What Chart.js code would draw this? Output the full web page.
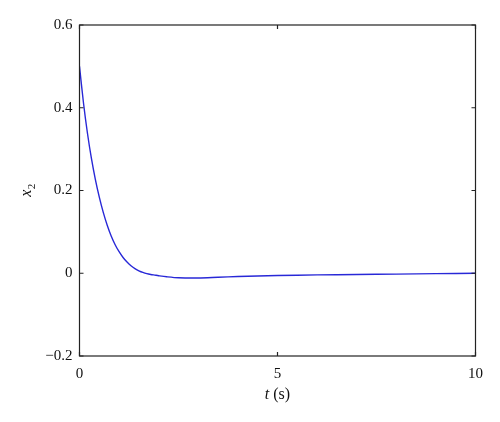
<!DOCTYPE html>
<html>
<head>
<meta charset="utf-8">
<script src="https://cdn.jsdelivr.net/npm/chart.js@4.4.0/dist/chart.umd.min.js"></script>
<style>
  html, body { margin: 0; padding: 0; background: #fff; }
  #wrap { width: 500px; height: 422px; }
</style>
</head>
<body>
<div id="wrap"><canvas id="x2-chart"></canvas></div>
<script>
// time (s) and response x2
var tValues  = [0, 0.1, 0.2, 0.3, 0.4, 0.5, 0.6, 0.7, 0.8, 0.9, 1.0, 1.1, 1.2, 1.3, 1.4, 1.5, 1.6, 1.7, 1.8, 1.9, 2.0, 2.2, 2.5, 3.0, 3.5, 4, 5, 6, 7, 8, 9, 10];
var x2Values = [0.5, 0.412, 0.339, 0.278, 0.227, 0.184, 0.147, 0.116, 0.09, 0.069, 0.052, 0.038, 0.027, 0.018, 0.011, 0.006, 0.002, -0.001, -0.003, -0.0045, -0.006, -0.0085, -0.011, -0.0115, -0.0098, -0.008, -0.0055, -0.004, -0.003, -0.002, -0.001, 0];
var xTicks = [0, 5, 10];
var yTicks = [-0.2, 0, 0.2, 0.4, 0.6];

var points = tValues.map(function(t, i){ return {x: t, y: x2Values[i]}; });

function fmt(v){
  if (Math.abs(v) < 1e-9) return '0';
  var s = (Math.round(v * 10) / 10).toString();
  return s.replace('-', '\u2212');
}

// box, inward ticks and the axis titles
var framePlugin = {
  id: 'frame',
  afterDraw: function(chart){
    var ctx = chart.ctx, a = chart.chartArea;
    var xs = chart.scales.x, ys = chart.scales.y;
    ctx.save();
    ctx.strokeStyle = '#222';
    ctx.lineWidth = 1.2;
    ctx.strokeRect(a.left, a.top, a.right - a.left, a.bottom - a.top);
    ctx.beginPath();
    xTicks.forEach(function(t){
      var px = xs.getPixelForValue(t);
      ctx.moveTo(px, a.bottom); ctx.lineTo(px, a.bottom - 4);
      ctx.moveTo(px, a.top); ctx.lineTo(px, a.top + 4);
    });
    yTicks.forEach(function(v){
      var py = ys.getPixelForValue(v);
      ctx.moveTo(a.left, py); ctx.lineTo(a.left + 4, py);
      ctx.moveTo(a.right, py); ctx.lineTo(a.right - 4, py);
    });
    ctx.stroke();

    ctx.fillStyle = '#111';
    ctx.textBaseline = 'middle';
    // x title: "t (s)"
    var cx = (a.left + a.right) / 2;
    ctx.font = 'italic 16px "Liberation Serif"';
    var wT = ctx.measureText('t ').width;
    ctx.font = '16px "Liberation Serif"';
    var wS = ctx.measureText('(s)').width;
    var x0 = cx - (wT + wS) / 2;
    ctx.textAlign = 'left';
    ctx.font = 'italic 16px "Liberation Serif"';
    ctx.fillText('t', x0, 395);
    ctx.font = '16px "Liberation Serif"';
    ctx.fillText('(s)', x0 + wT, 395);

    // y title: x with subscript 2, rotated
    ctx.translate(28, (a.top + a.bottom) / 2);
    ctx.rotate(-Math.PI / 2);
    ctx.font = 'italic 16px "Liberation Serif"';
    var wx = ctx.measureText('x').width;
    ctx.font = '11px "Liberation Serif"';
    var w2 = ctx.measureText('2').width;
    var sx = -(wx + w2) / 2;
    ctx.font = 'italic 16px "Liberation Serif"';
    ctx.fillText('x', sx, -1);
    ctx.font = '11px "Liberation Serif"';
    ctx.fillText('2', sx + wx + 0.5, 4);
    ctx.restore();
  }
};

new Chart(document.getElementById('x2-chart'), {
  type: 'line',
  data: {
    datasets: [{
      label: 'x2',
      data: points,
      borderColor: 'rgb(40,40,215)',
      borderWidth: 1.4,
      pointRadius: 0,
      fill: false,
      tension: 0.3
    }]
  },
  options: {
    responsive: true,
    maintainAspectRatio: false,
    animation: false,
    layout: { padding: { top: 25, right: 24.5, left: 0, bottom: 0 } },
    plugins: { legend: { display: false }, tooltip: { enabled: false } },
    scales: {
      x: {
        type: 'linear',
        min: 0, max: 10,
        afterFit: function(s){ s.height = 66; },
        afterBuildTicks: function(s){ s.ticks = xTicks.map(function(v){ return {value: v}; }); },
        grid: { display: false, drawTicks: false },
        border: { display: false },
        ticks: {
          padding: 9,
          color: '#111',
          maxRotation: 0,
          font: { family: '"Liberation Serif"', size: 15 },
          callback: function(v){ return fmt(v); }
        }
      },
      y: {
        type: 'linear',
        min: -0.2, max: 0.6,
        afterFit: function(s){ s.width = 79.5; },
        afterBuildTicks: function(s){ s.ticks = yTicks.map(function(v){ return {value: v}; }); },
        grid: { display: false, drawTicks: false },
        border: { display: false },
        ticks: {
          padding: 7,
          color: '#111',
          font: { family: '"Liberation Serif"', size: 15 },
          callback: function(v){ return fmt(v); }
        }
      }
    }
  },
  plugins: [framePlugin]
});
</script>
</body>
</html>
